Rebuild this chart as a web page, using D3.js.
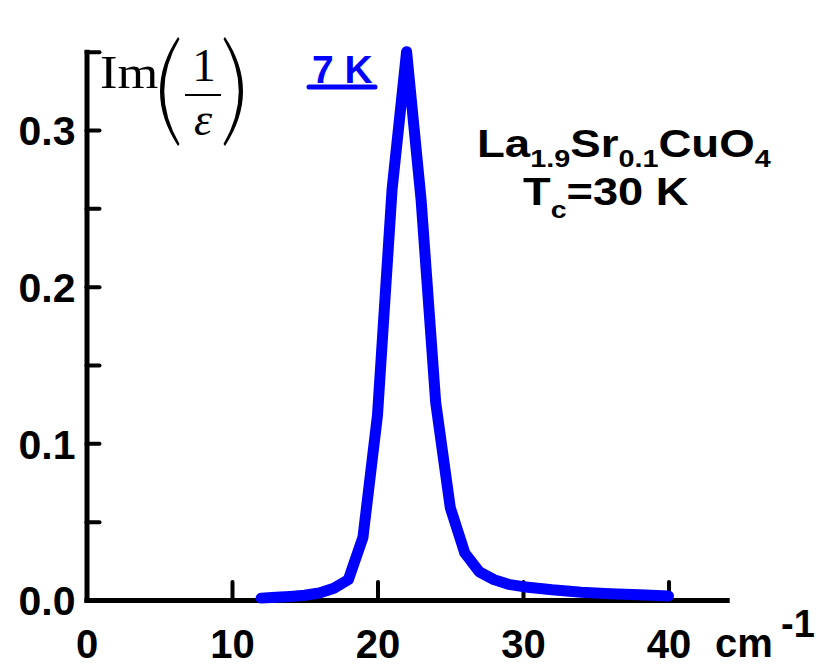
<!DOCTYPE html>
<html>
<head>
<meta charset="utf-8">
<script src="https://cdn.jsdelivr.net/npm/d3@7"></script>
<style>
  html, body { margin: 0; padding: 0; background: #fff; }
  svg { display: block; }
</style>
</head>
<body>
<svg id="chart" width="816" height="666"></svg>
<script>
// Energy-loss function Im(1/ε) of La1.9Sr0.1CuO4 at 7 K
const waveNumbers = [12, 13, 14, 15, 16, 17, 18, 19, 20, 21, 22, 23, 24, 25, 26, 27, 28, 29, 30, 32, 34, 36, 38, 40];
const lossValues = [0.0012, 0.0017, 0.0023, 0.003, 0.0045, 0.0075, 0.013, 0.040, 0.118, 0.262, 0.350, 0.255, 0.126, 0.059, 0.030, 0.018, 0.013, 0.010, 0.0085, 0.0065, 0.005, 0.004, 0.0033, 0.0026];

const xTicks = [0, 10, 20, 30, 40];
const yMajorTicks = [0, 0.1, 0.2, 0.3];
const yMinorTicks = [0.05, 0.15, 0.25, 0.35];
const seriesLabel = "7 K";
const xUnitLabel = "cm";
const xUnitPower = "-1";

const svg = d3.select("#chart");
const x = d3.scaleLinear().domain([0, 44]).range([86.5, 726.7]);
const y = d3.scaleLinear().domain([0, 0.35]).range([600, 51.7]);

const sans = "'Liberation Sans', Arial, sans-serif";
const serif = "'Liberation Serif', 'Times New Roman', serif";

// y axis: inward ticks, labels only on major values
const yAxis = d3.axisLeft(y)
  .tickValues(yMajorTicks.concat(yMinorTicks))
  .tickSize(-13)
  .tickSizeOuter(0)
  .tickPadding(11)
  .tickFormat(d => yMajorTicks.some(v => Math.abs(v - d) < 1e-9) ? d3.format(".1f")(d) : "");

const gy = svg.append("g").attr("transform", `translate(${x(0)},0)`).call(yAxis);

// x axis: inward ticks
const xAxis = d3.axisBottom(x)
  .tickValues(xTicks)
  .tickSize(-18)
  .tickSizeOuter(0)
  .tickPadding(30)
  .tickFormat(d3.format("d"));

const gx = svg.append("g").attr("transform", `translate(0,${y(0)})`).call(xAxis);

[gx, gy].forEach(g => {
  g.select(".domain").attr("stroke", "#000").attr("stroke-width", 5).attr("stroke-linecap", "square");
  g.selectAll(".tick line").attr("stroke", "#000").attr("stroke-width", 4).attr("stroke-linecap", "round");
  g.selectAll(".tick text")
    .attr("fill", "#000")
    .attr("font-family", sans)
    .attr("font-weight", "bold")
    .attr("font-size", 40);
});
gy.selectAll(".tick text").attr("font-size", 41).attr("dy", "0.36em");
gx.selectAll(".tick text").attr("dy", "0.71em");
gx.selectAll(".tick").filter(d => d === 0).select("line").remove();

// x unit label
const unit = svg.append("text")
  .attr("x", 715).attr("y", 657)
  .attr("font-family", sans).attr("font-weight", "bold").attr("font-size", 40)
  .attr("fill", "#000");
unit.append("tspan").text(xUnitLabel);
unit.append("tspan").attr("x", 781).attr("y", 637).attr("font-size", 38).text(xUnitPower);

// loss-function curve
const line = d3.line()
  .x((d, i) => x(waveNumbers[i]))
  .y(d => y(d));

svg.append("path")
  .datum(lossValues)
  .attr("d", line)
  .attr("fill", "none")
  .attr("stroke", "#0000ff")
  .attr("stroke-width", 11)
  .attr("stroke-linejoin", "round")
  .attr("stroke-linecap", "round");

// legend entry
svg.append("text")
  .attr("x", 312).attr("y", 83)
  .attr("font-family", sans).attr("font-weight", "bold").attr("font-size", 39)
  .attr("fill", "#0000ff")
  .text(seriesLabel);
svg.append("line")
  .attr("x1", 309).attr("x2", 375).attr("y1", 87).attr("y2", 87)
  .attr("stroke", "#0000ff").attr("stroke-width", 5).attr("stroke-linecap", "round");

// y quantity label: Im(1/ε)
const lab = svg.append("g");
lab.append("text")
  .attr("transform", "translate(100,88) scale(1.14,1)")
  .attr("font-family", serif).attr("font-size", 46).attr("fill", "#000")
  .text("Im");
lab.append("path")
  .attr("d", "M178,37 Q142,91 178,146 L179.5,144 Q149,91 179.5,39 Z")
  .attr("fill", "#000");
lab.append("path")
  .attr("d", "M225,37 Q261,91 225,146 L223.5,144 Q254,91 223.5,39 Z")
  .attr("fill", "#000");
lab.append("text")
  .attr("x", 204).attr("y", 81)
  .attr("text-anchor", "middle")
  .attr("font-family", serif).attr("font-size", 47).attr("fill", "#000")
  .text("1");
lab.append("line")
  .attr("x1", 185).attr("x2", 221).attr("y1", 95).attr("y2", 95)
  .attr("stroke", "#000").attr("stroke-width", 2);
lab.append("text")
  .attr("x", 203).attr("y", 135)
  .attr("text-anchor", "middle")
  .attr("font-family", serif).attr("font-style", "italic").attr("font-size", 46).attr("fill", "#000")
  .text("ε");

// compound annotation
const t1 = svg.append("text")
  .attr("transform", "translate(477,157) scale(1.2,1)")
  .attr("font-family", sans).attr("font-weight", "bold").attr("font-size", 38).attr("fill", "#000");
t1.append("tspan").text("La");
t1.append("tspan").attr("font-size", 24).attr("dy", 10).text("1.9");
t1.append("tspan").attr("dy", -10).text("Sr");
t1.append("tspan").attr("font-size", 24).attr("dy", 10).text("0.1");
t1.append("tspan").attr("dy", -10).text("CuO");
t1.append("tspan").attr("font-size", 24).attr("dy", 10).text("4");

const t2 = svg.append("text")
  .attr("transform", "translate(523,205) scale(1.19,1)")
  .attr("font-family", sans).attr("font-weight", "bold").attr("font-size", 38).attr("fill", "#000");
t2.append("tspan").text("T");
t2.append("tspan").attr("font-size", 24).attr("dy", 13).text("c");
t2.append("tspan").attr("dy", -13).text("=30 K");
</script>
</body>
</html>
